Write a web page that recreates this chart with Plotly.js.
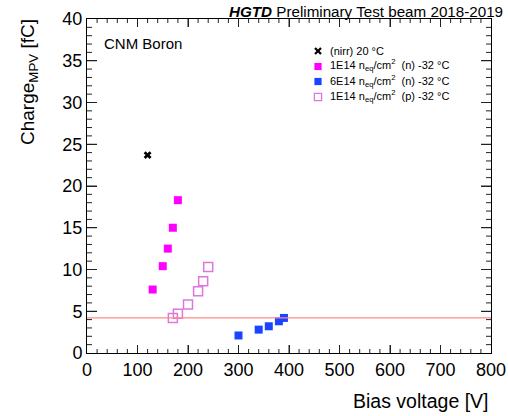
<!DOCTYPE html>
<html>
<head>
<meta charset="utf-8">
<script src="https://cdn.plot.ly/plotly-3.0.1.min.js"></script>
<style>html,body{margin:0;padding:0;background:#fff;}#chart{width:508px;height:416px;}</style>
</head>
<body>
<div id="chart"></div>
<script>
// ---- data ----
const nirrV = [120];
const nirrQ = [23.7];
const n1eV = [130, 150, 160, 170, 180];
const n1eQ = [7.6, 10.4, 12.5, 15.0, 18.3];
const n6eV = [300, 340, 360, 380, 390];
const n6eQ = [2.1, 2.8, 3.2, 3.8, 4.2];
const p1eV = [170, 180, 200, 220, 230, 240];
const p1eQ = [4.2, 4.7, 5.8, 7.4, 8.6, 10.3];
const thresholdQ = 4.2;
const seriesNames = [
  "(nirr) 20 °C",
  "1E14 n<sub>eq</sub>/cm<sup>2</sup>&nbsp; (n) -32 °C",
  "6E14 n<sub>eq</sub>/cm<sup>2</sup>&nbsp; (n) -32 °C",
  "1E14 n<sub>eq</sub>/cm<sup>2</sup>&nbsp; (p) -32 °C"
];
const seriesColors = ["#000000", "#ff00ff", "#1a44ff", "#dd77dd"];
const xRange = [0, 800];
const yRange = [0, 40];
const xMajorStep = 100, xMinorStep = 20;
const yMajorStep = 5, yMinorStep = 1;

const FONT = "Liberation Sans, Arial, Helvetica, sans-serif";

// plot frame in pixels (for placing the hand-made legend)
const W = 508, H = 416, ML = 87, MR = 17, MT = 19, MB = 63;
const PW = W - ML - MR, PH = H - MT - MB;
const px2x = p => (p - ML) / PW;
const px2y = p => (H - MB - p) / PH;

const traces = [
  {x: nirrV, y: nirrQ, name: seriesNames[0], type: "scatter", mode: "markers",
   marker: {symbol: "x", size: 7, color: seriesColors[0], line: {width: 0}}},
  {x: n1eV, y: n1eQ, name: seriesNames[1], type: "scatter", mode: "markers",
   marker: {symbol: "square", size: 8, color: seriesColors[1], line: {width: 0}}},
  {x: n6eV, y: n6eQ, name: seriesNames[2], type: "scatter", mode: "markers",
   marker: {symbol: "square", size: 8, color: seriesColors[2], line: {width: 0}}},
  {x: p1eV, y: p1eQ, name: seriesNames[3], type: "scatter", mode: "markers",
   marker: {symbol: "square-open", size: 9, color: seriesColors[3], line: {width: 1.5, color: seriesColors[3]}}}
];

const TICKC = "#222222";
const axisCommon = {
  showgrid: false, zeroline: false, showline: true, linecolor: "#000", linewidth: 1,
  mirror: "ticks", ticks: "inside", tickcolor: TICKC, tickwidth: 1,
  tickfont: {family: FONT, size: 18, color: "#000"}
};

const shapes = [
  {type: "line", xref: "paper", x0: 0, x1: 1, yref: "y", y0: thresholdQ, y1: thresholdQ,
   line: {color: "#ff8a8a", width: 1.2}, layer: "above"}
];

// ROOT-style inside ticks on all four sides (positioned by the axis scales, length in pixels)
function addXTick(v, len) {
  shapes.push({type: "line", xref: "x", yref: "y", ysizemode: "pixel", yanchor: yRange[0],
    x0: v, x1: v, y0: 0, y1: len, line: {color: TICKC, width: 1}});
  shapes.push({type: "line", xref: "x", yref: "y", ysizemode: "pixel", yanchor: yRange[1],
    x0: v, x1: v, y0: 0, y1: -len, line: {color: TICKC, width: 1}});
}
function addYTick(v, len) {
  shapes.push({type: "line", xref: "x", yref: "y", xsizemode: "pixel", xanchor: xRange[0],
    y0: v, y1: v, x0: 0, x1: len, line: {color: TICKC, width: 1}});
  shapes.push({type: "line", xref: "x", yref: "y", xsizemode: "pixel", xanchor: xRange[1],
    y0: v, y1: v, x0: 0, x1: -len, line: {color: TICKC, width: 1}});
}
for (let v = xRange[0] + xMinorStep; v < xRange[1]; v += xMinorStep) {
  addXTick(v, (v % xMajorStep === 0) ? 8 : 4);
}
for (let v = yRange[0] + yMinorStep; v < yRange[1]; v += yMinorStep) {
  addYTick(v, (v % yMajorStep === 0) ? 10 : 5);
}

// legend: rows (pixel centres), symbol at x=318, text from x=328
const legRowsPx = [51, 66.5, 81.5, 97];
const legSymX = 318, legTextX = 328, half = 3.6;
shapes.push({type: "line", xref: "paper", yref: "paper",
  x0: px2x(legSymX - 3), x1: px2x(legSymX + 3), y0: px2y(legRowsPx[0] - 3), y1: px2y(legRowsPx[0] + 3),
  line: {color: seriesColors[0], width: 2.2}});
shapes.push({type: "line", xref: "paper", yref: "paper",
  x0: px2x(legSymX - 3), x1: px2x(legSymX + 3), y0: px2y(legRowsPx[0] + 3), y1: px2y(legRowsPx[0] - 3),
  line: {color: seriesColors[0], width: 2.2}});
[1, 2].forEach(i => shapes.push({type: "rect", xref: "paper", yref: "paper",
  x0: px2x(legSymX - half), x1: px2x(legSymX + half), y0: px2y(legRowsPx[i] + half), y1: px2y(legRowsPx[i] - half),
  fillcolor: seriesColors[i], line: {width: 0}}));
shapes.push({type: "rect", xref: "paper", yref: "paper",
  x0: px2x(legSymX - half), x1: px2x(legSymX + half), y0: px2y(legRowsPx[3] + half), y1: px2y(legRowsPx[3] - half),
  fillcolor: "rgba(0,0,0,0)", line: {color: seriesColors[3], width: 1.3}});

const annotations = [
  {text: "<b><i>HGTD</i></b> Preliminary Test beam 2018-2019", xref: "paper", yref: "paper",
   x: px2x(505), y: px2y(1), xanchor: "right", yanchor: "top", showarrow: false,
   font: {family: FONT, size: 15.2, color: "#000"}},
  {text: "CNM Boron", xref: "paper", yref: "paper", x: px2x(102), y: px2y(44),
   xanchor: "left", yanchor: "middle", showarrow: false,
   font: {family: FONT, size: 15, color: "#000"}},
  {text: "Bias voltage [V]", xref: "paper", yref: "paper", x: 1.0, y: px2y(401),
   xanchor: "right", yanchor: "middle", showarrow: false,
   font: {family: FONT, size: 19.5, color: "#000"}},
  {text: "Charge<sub>MPV</sub> [fC]", xref: "paper", yref: "paper", x: px2x(29), y: px2y(17),
   xanchor: "center", yanchor: "top", textangle: -90, showarrow: false,
   font: {family: FONT, size: 19, color: "#000"}}
];
seriesNames.forEach((n, i) => annotations.push({
  text: n, xref: "paper", yref: "paper", x: px2x(legTextX), y: px2y(legRowsPx[i] + (i === 0 ? 0 : -1)),
  xanchor: "left", yanchor: "middle", showarrow: false,
  font: {family: FONT, size: 11, color: "#000"}
}));

const layout = {
  width: W, height: H,
  margin: {l: ML, r: MR, t: MT, b: MB},
  paper_bgcolor: "#fff", plot_bgcolor: "#fff",
  font: {family: FONT, color: "#000"},
  showlegend: false,
  xaxis: Object.assign({}, axisCommon, {range: xRange, dtick: xMajorStep, ticklen: 8}),
  yaxis: Object.assign({}, axisCommon, {range: yRange, dtick: yMajorStep, ticklen: 10}),
  shapes: shapes,
  annotations: annotations
};

Plotly.newPlot("chart", traces, layout, {displayModeBar: false});
</script>
</body>
</html>
